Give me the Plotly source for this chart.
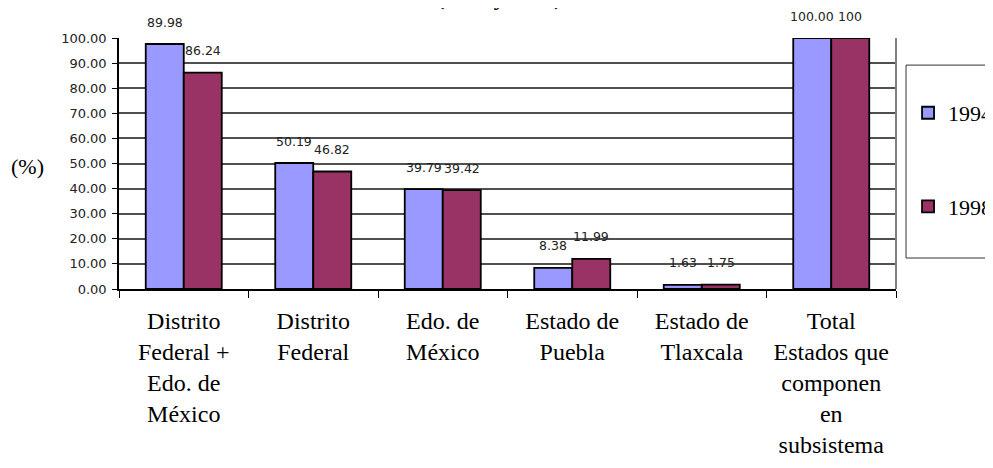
import plotly.graph_objects as go

categories = [
    "Distrito<br>Federal +<br>Edo. de<br>México",
    "Distrito<br>Federal",
    "Edo. de<br>México",
    "Estado de<br>Puebla",
    "Estado de<br>Tlaxcala",
    "Total<br>Estados que<br>componen<br>en<br>subsistema",
]
values_1994 = [97.6, 50.19, 39.79, 8.38, 1.63, 100.0]
values_1998 = [86.24, 46.82, 39.42, 11.99, 1.75, 100.0]
labels_1994 = ["89.98", "50.19", "39.79", "8.38", "1.63", "100.00"]
labels_1998 = ["86.24", "46.82", "39.42", "11.99", "1.75", "100"]
series_names = ["1994", "1998"]
y_ticks = [0, 10, 20, 30, 40, 50, 60, 70, 80, 90, 100]

C1994 = "#9999FF"
C1998 = "#993366"
SERIF = "Liberation Serif"
SANS = "DejaVu Sans"

fig = go.Figure()
for name, vals, col, grp in [(series_names[0], values_1994, C1994, "g1"),
                             (series_names[1], values_1998, C1998, "g2")]:
    fig.add_trace(go.Bar(
        x=categories, y=vals, name=name, legendgroup=grp,
        marker=dict(color=col, line=dict(color="black", width=1.8)),
        hoverinfo="skip",
    ))

annotations = []
for i, (v, t) in enumerate(zip(values_1994, labels_1994)):
    annotations.append(dict(x=i, y=v, xref="x", yref="y", text=t, showarrow=False,
                            xshift=-19, yshift=22, font=dict(family=SANS, size=12.5, color="#222")))
for i, (v, t) in enumerate(zip(values_1998, labels_1998)):
    annotations.append(dict(x=i, y=v, xref="x", yref="y", text=t, showarrow=False,
                            xshift=19, yshift=22, font=dict(family=SANS, size=12.5, color="#222")))

# y-axis title
annotations.append(dict(x=-0.1178, y=0.49, xref="paper", yref="paper", text="(%)",
                        xanchor="center", yanchor="middle",
                        showarrow=False, font=dict(family=SERIF, size=22, color="black")))
# chart title (mostly cut off at top)
annotations.append(dict(x=0.4897, y=1.105, xref="paper", yref="paper", yanchor="bottom",
                        xanchor="center",
                        text="<b>(1994 y 1998)</b>", showarrow=False,
                        font=dict(family=SERIF, size=22, color="black")))

shapes = [
    # right border of plot area
    dict(type="line", xref="paper", yref="paper", x0=1, x1=1, y0=0, y1=1,
         line=dict(color="#808080", width=2)),
    # legend frame
    dict(type="rect", xref="paper", yref="paper", x0=1.0129, x1=1.14, y0=0.1235, y1=0.892,
         line=dict(color="#333333", width=1), fillcolor="white", layer="below"),
]

fig.update_layout(
    width=985, height=460,
    margin=dict(l=111, r=97, t=30, b=179, autoexpand=False),
    paper_bgcolor="white", plot_bgcolor="white",
    barmode="group", bargap=0.413, bargroupgap=0,
    showlegend=True,
    legend=dict(x=1.0155, y=0.785, xanchor="left", yanchor="top",
                font=dict(family=SERIF, size=22, color="black"),
                bgcolor="rgba(0,0,0,0)", borderwidth=0,
                traceorder="grouped", tracegroupgap=62),
    annotations=annotations,
    shapes=shapes,
    xaxis=dict(
        type="category", showline=True, linecolor="black", linewidth=1.5,
        ticks="outside", tickson="boundaries", ticklen=7, tickcolor="black", tickwidth=1,
        tickfont=dict(family=SERIF, size=24, color="black"),
        ticklabelstandoff=9,
        showgrid=False, zeroline=False,
    ),
    yaxis=dict(
        range=[0, 100], tickvals=y_ticks, tickformat=".2f",
        showline=True, linecolor="black", linewidth=1.5,
        ticks="outside", ticklen=5, tickcolor="black",
        tickfont=dict(family=SANS, size=13, color="#222"),
        ticklabelstandoff=3,
        showgrid=True, gridcolor="#505050", gridwidth=2,
        zeroline=False,
    ),
)

fig.write_html("out.html")
